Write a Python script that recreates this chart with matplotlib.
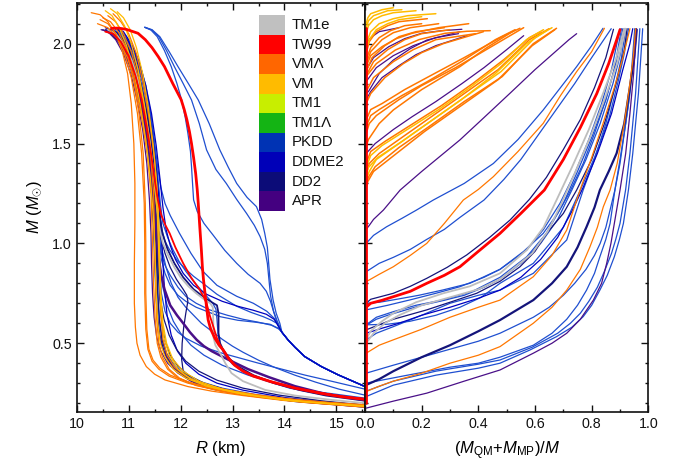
import matplotlib
matplotlib.use('Agg')
import matplotlib.pyplot as plt
from matplotlib.ticker import MultipleLocator, FormatStrFormatter
from matplotlib.patches import Rectangle

plt.rcParams['font.family'] = ['Liberation Sans', 'DejaVu Sans']
plt.rcParams['mathtext.fontset'] = 'custom'
plt.rcParams['mathtext.rm'] = 'Liberation Sans'
plt.rcParams['mathtext.it'] = 'Liberation Sans:italic'

# legend entries
EOS_NAMES = ['TM1e', 'TW99', 'VMΛ', 'VM', 'TM1', 'TM1Λ', 'PKDD', 'DDME2', 'DD2', 'APR']
EOS_COLORS = ['#c0c0c0', '#ff0000', '#ff6600', '#ffbb00', '#c8ee00',
              '#14b414', '#0033b4', '#0000b8', '#0c0c78', '#440080']

# line colours used for the curves
C_GRAY = '#bdbdbd'
C_RED = '#ff0000'
C_ORANGE = '#ff7700'
C_YELLOW = '#ffbb00'
C_BLUE = '#1f4fd0'
C_DDME2 = '#0000c0'
C_NAVY = '#14147a'
C_PURPLE = '#4a1088'

# ---------------- left panel: M-R curves (R in km, M in Msun) ----------------
mr_vml = [
    [(10.28, 2.155), (10.45, 2.145), (10.6, 2.11), (10.75, 2.05), (10.88, 1.96), (10.98, 1.85), (11.05, 1.7),
     (11.1, 1.5), (11.12, 1.3), (11.12, 1.1), (11.11, 0.9), (11.11, 0.7), (11.13, 0.58), (11.16, 0.5),
     (11.22, 0.44), (11.34, 0.383), (11.5, 0.345), (11.7, 0.316), (12.14, 0.283), (12.6, 0.26), (13.2, 0.238),
     (14.0, 0.213), (14.8, 0.196), (15.55, 0.183)],
    [(10.45, 2.12), (10.6, 2.1), (10.75, 2.05), (10.9, 1.97), (11.05, 1.83), (11.17, 1.65), (11.25, 1.45),
     (11.3, 1.2), (11.31, 1.0), (11.31, 0.75), (11.33, 0.57), (11.37, 0.47), (11.45, 0.41), (11.58, 0.37),
     (11.78, 0.335), (12.14, 0.30), (12.6, 0.272), (13.2, 0.248), (14.0, 0.222), (14.8, 0.203), (15.55, 0.19)],
    [(10.5, 2.13), (10.65, 2.11), (10.8, 2.06), (10.95, 1.98), (11.08, 1.85), (11.2, 1.65), (11.28, 1.45),
     (11.32, 1.2), (11.33, 1.0), (11.33, 0.75), (11.35, 0.57), (11.39, 0.47), (11.47, 0.415), (11.6, 0.375),
     (11.8, 0.34), (12.16, 0.305), (12.6, 0.275), (13.2, 0.25), (14.0, 0.224), (14.8, 0.205), (15.55, 0.192)],
    [(10.6, 2.14), (10.75, 2.11), (10.9, 2.05), (11.05, 1.96), (11.2, 1.82), (11.32, 1.64), (11.42, 1.45),
     (11.48, 1.25), (11.5, 1.0), (11.52, 0.8), (11.54, 0.62), (11.58, 0.5), (11.65, 0.43), (11.78, 0.37),
     (11.98, 0.325), (12.3, 0.29), (12.8, 0.26), (13.5, 0.232), (14.4, 0.205), (15.55, 0.182)],
    [(10.4, 2.1), (10.6, 2.08), (10.8, 2.02), (10.98, 1.93), (11.12, 1.8), (11.25, 1.63), (11.36, 1.45),
     (11.43, 1.25), (11.46, 1.0), (11.48, 0.8), (11.51, 0.62), (11.55, 0.5), (11.62, 0.43), (11.75, 0.37),
     (11.95, 0.325), (12.3, 0.288), (12.8, 0.258), (13.5, 0.23), (14.4, 0.203), (15.55, 0.18)],
    [(10.7, 2.15), (10.85, 2.11), (11.0, 2.05), (11.15, 1.95), (11.28, 1.8), (11.4, 1.62), (11.5, 1.42),
     (11.56, 1.22), (11.58, 1.0), (11.6, 0.8), (11.62, 0.64), (11.66, 0.52), (11.74, 0.44), (11.88, 0.38),
     (12.1, 0.335), (12.4, 0.298), (12.9, 0.266), (13.6, 0.236), (14.5, 0.207), (15.55, 0.184)],
]
mr_vm = [
    [(10.65, 2.175), (10.78, 2.15), (10.92, 2.09), (11.05, 2.0), (11.18, 1.87), (11.3, 1.7), (11.4, 1.52),
     (11.48, 1.35), (11.55, 1.15), (11.58, 0.95), (11.6, 0.8), (11.63, 0.65), (11.68, 0.53), (11.78, 0.44),
     (11.95, 0.37), (12.2, 0.32), (12.6, 0.28), (13.2, 0.245), (14.2, 0.21), (15.55, 0.185)],
    [(10.78, 2.16), (10.9, 2.13), (11.03, 2.07), (11.15, 1.98), (11.27, 1.85), (11.38, 1.68), (11.47, 1.5),
     (11.54, 1.3), (11.58, 1.1), (11.6, 0.9), (11.62, 0.75), (11.66, 0.6), (11.73, 0.5), (11.85, 0.42),
     (12.05, 0.36), (12.35, 0.31), (12.8, 0.27), (13.5, 0.235), (14.5, 0.205), (15.55, 0.186)],
    [(10.55, 2.165), (10.68, 2.14), (10.82, 2.08), (10.96, 1.99), (11.1, 1.86), (11.22, 1.7), (11.33, 1.52),
     (11.42, 1.32), (11.48, 1.12), (11.51, 0.92), (11.53, 0.75), (11.56, 0.6), (11.61, 0.5), (11.7, 0.43),
     (11.86, 0.37), (12.1, 0.325), (12.5, 0.285), (13.1, 0.25), (14.0, 0.215), (15.55, 0.184)],
]
mr_apr = [
    [(10.47, 2.07), (10.6, 2.06), (10.75, 2.02), (10.9, 1.95), (11.04, 1.85), (11.16, 1.72), (11.27, 1.57),
     (11.35, 1.4), (11.4, 1.22), (11.43, 1.05), (11.44, 0.9), (11.46, 0.75), (11.49, 0.63), (11.54, 0.53),
     (11.62, 0.46), (11.75, 0.4), (11.95, 0.35), (12.2, 0.31), (12.6, 0.275), (13.2, 0.245), (14.2, 0.21),
     (15.55, 0.18)],
    [(10.55, 2.08), (10.68, 2.065), (10.82, 2.02), (10.96, 1.94), (11.1, 1.83), (11.23, 1.68), (11.33, 1.52),
     (11.42, 1.33), (11.47, 1.15), (11.5, 0.98), (11.52, 0.82), (11.54, 0.68), (11.58, 0.56), (11.64, 0.48),
     (11.76, 0.41), (11.95, 0.36), (12.25, 0.315), (12.7, 0.275), (13.4, 0.24), (14.4, 0.207), (15.55, 0.182)],
]
mr_apr_thick = [(10.6, 2.06), (10.75, 2.04), (10.9, 1.98), (11.05, 1.88), (11.18, 1.76), (11.3, 1.6),
                (11.4, 1.42), (11.47, 1.25), (11.52, 1.1), (11.56, 0.97), (11.62, 0.85), (11.69, 0.77),
                (11.8, 0.69), (11.93, 0.64), (12.05, 0.6), (12.18, 0.555), (12.31, 0.517), (12.45, 0.485),
                (12.6, 0.46), (12.9, 0.42), (13.3, 0.37), (13.7, 0.33), (14.2, 0.285), (14.8, 0.245),
                (15.55, 0.215)]
mr_dd2 = [
    [(10.55, 2.07), (10.7, 2.05), (10.85, 2.0), (11.0, 1.93), (11.13, 1.83), (11.25, 1.7), (11.35, 1.55),
     (11.43, 1.38), (11.49, 1.2), (11.52, 1.05), (11.54, 0.9), (11.56, 0.75), (11.59, 0.62), (11.64, 0.52),
     (11.72, 0.45), (11.84, 0.39), (12.0, 0.345), (12.3, 0.3), (12.7, 0.268), (13.3, 0.24), (14.2, 0.208),
     (15.55, 0.18)],
    [(10.6, 2.075), (10.75, 2.055), (10.9, 2.0), (11.05, 1.92), (11.18, 1.81), (11.3, 1.67), (11.4, 1.5),
     (11.48, 1.32), (11.53, 1.15), (11.56, 1.0), (11.58, 0.85), (11.6, 0.72), (11.64, 0.6), (11.7, 0.51),
     (11.8, 0.44), (11.95, 0.385), (12.15, 0.34), (12.45, 0.3), (12.9, 0.265), (13.6, 0.233), (14.5, 0.205),
     (15.55, 0.182)],
    [(10.5, 2.07), (10.65, 2.055), (10.8, 2.01), (10.95, 1.94), (11.08, 1.85), (11.2, 1.73), (11.3, 1.58),
     (11.38, 1.42), (11.44, 1.25), (11.48, 1.08), (11.5, 0.92), (11.52, 0.78), (11.55, 0.64), (11.6, 0.54),
     (11.68, 0.46), (11.8, 0.4), (11.98, 0.35), (12.25, 0.308), (12.65, 0.273), (13.3, 0.24), (14.2, 0.21),
     (15.55, 0.183)],
    [(10.62, 2.06), (10.77, 2.04), (10.92, 1.99), (11.07, 1.9), (11.2, 1.79), (11.32, 1.65), (11.42, 1.48),
     (11.5, 1.3), (11.56, 1.15), (11.62, 1.03), (11.7, 0.95), (11.8, 0.88), (11.92, 0.82), (12.05, 0.77),
     (12.12, 0.74), (12.14, 0.71), (12.1, 0.65), (12.06, 0.58), (12.03, 0.5), (12.02, 0.42), (12.05, 0.36),
     (12.15, 0.32), (12.35, 0.29), (12.7, 0.265), (13.3, 0.238), (14.3, 0.21), (15.55, 0.188)],
    [(10.58, 2.07), (10.72, 2.05), (10.88, 2.0), (11.03, 1.92), (11.16, 1.82), (11.28, 1.68), (11.38, 1.52),
     (11.46, 1.34), (11.51, 1.17), (11.54, 1.0), (11.57, 0.85), (11.61, 0.72), (11.68, 0.62), (11.78, 0.54),
     (11.92, 0.47), (12.1, 0.41), (12.35, 0.36), (12.7, 0.315), (13.2, 0.275), (13.9, 0.24), (14.7, 0.212),
     (15.55, 0.19)],
]
mr_dd2_kink = [(10.65, 2.07), (10.8, 2.05), (10.95, 2.0), (11.1, 1.92), (11.23, 1.8), (11.35, 1.65),
               (11.45, 1.48), (11.52, 1.3), (11.58, 1.16), (11.65, 1.05), (11.75, 0.97), (11.88, 0.9),
               (12.05, 0.83), (12.25, 0.77), (12.45, 0.73), (12.6, 0.705), (12.7, 0.69), (12.73, 0.65),
               (12.73, 0.55), (12.76, 0.5), (12.82, 0.466), (12.95, 0.42), (13.1, 0.385), (13.4, 0.34),
               (13.8, 0.3), (14.3, 0.265), (14.8, 0.238), (15.55, 0.212)]
# shared low-mass branch of the PKDD-like curves after they merge
mr_pkdd_tail = [(13.95, 0.555), (14.07, 0.516), (14.2, 0.48), (14.39, 0.433), (14.71, 0.383), (15.03, 0.342),
                (15.55, 0.283)]
mr_ddme2 = [
    [(10.7, 2.08), (10.85, 2.06), (11.0, 2.01), (11.14, 1.93), (11.27, 1.82), (11.38, 1.68), (11.47, 1.52),
     (11.54, 1.35), (11.59, 1.2), (11.63, 1.05), (11.66, 0.9), (11.69, 0.77), (11.74, 0.64), (11.82, 0.54),
     (11.94, 0.46), (12.1, 0.4), (12.35, 0.345), (12.7, 0.3), (13.2, 0.265), (14.0, 0.228), (14.8, 0.205),
     (15.55, 0.19)],
    [(10.75, 2.08), (10.9, 2.06), (11.05, 2.0), (11.2, 1.91), (11.33, 1.79), (11.44, 1.65), (11.53, 1.49),
     (11.6, 1.33), (11.66, 1.18), (11.72, 1.07), (11.8, 0.99), (11.9, 0.92), (12.05, 0.85), (12.25, 0.79),
     (12.5, 0.745), (12.8, 0.71), (13.1, 0.685), (13.4, 0.665), (13.65, 0.645), (13.8, 0.62), (13.85, 0.6)]
    + mr_pkdd_tail,
]
mr_pkdd = [
    [(11.31, 2.082), (11.45, 2.07), (11.6, 2.035), (11.78, 1.96), (11.95, 1.885), (12.15, 1.8), (12.34, 1.718),
     (12.55, 1.6), (12.755, 1.468), (12.92, 1.38), (13.08, 1.3), (13.28, 1.23), (13.46, 1.184), (13.56, 1.12),
     (13.62, 1.05), (13.67, 0.98), (13.69, 0.917), (13.72, 0.82), (13.78, 0.717), (13.84, 0.65), (13.91, 0.6)]
    + mr_pkdd_tail,
    [(11.31, 2.082), (11.45, 2.068), (11.58, 2.035), (11.73, 1.965), (11.88, 1.885), (12.05, 1.8),
     (12.21, 1.718), (12.36, 1.6), (12.5, 1.468), (12.68, 1.37), (12.88, 1.3), (13.08, 1.22), (13.27, 1.15),
     (13.42, 1.09), (13.53, 1.034), (13.62, 0.97), (13.67, 0.9), (13.7, 0.82), (13.73, 0.74), (13.79, 0.66),
     (13.85, 0.617)] + mr_pkdd_tail,
    [(11.31, 2.082), (11.43, 2.068), (11.55, 2.035), (11.69, 1.965), (11.82, 1.885), (11.93, 1.8),
     (12.02, 1.718), (12.09, 1.63), (12.14, 1.552), (12.19, 1.46), (12.21, 1.385), (12.23, 1.3), (12.25, 1.218),
     (12.32, 1.16), (12.45, 1.1), (12.63, 1.04), (12.85, 0.965), (13.08, 0.9), (13.3, 0.845), (13.53, 0.8),
     (13.65, 0.76), (13.73, 0.71), (13.8, 0.65), (13.85, 0.61)] + mr_pkdd_tail,
    [(10.7, 2.08), (10.85, 2.06), (11.0, 2.01), (11.15, 1.93), (11.28, 1.82), (11.4, 1.68), (11.49, 1.52),
     (11.56, 1.38), (11.62, 1.28), (11.7, 1.2), (11.8, 1.14), (11.98, 1.05), (12.2, 0.95), (12.43, 0.86),
     (12.7, 0.79), (13.08, 0.735), (13.4, 0.7), (13.66, 0.66), (13.8, 0.625), (13.85, 0.605)] + mr_pkdd_tail,
    [(10.75, 2.08), (10.9, 2.055), (11.05, 2.0), (11.2, 1.91), (11.33, 1.79), (11.43, 1.64), (11.5, 1.48),
     (11.55, 1.32), (11.59, 1.18), (11.64, 1.07), (11.7, 1.01), (11.79, 0.967), (11.95, 0.91), (12.1, 0.87),
     (12.25, 0.835), (12.43, 0.8), (12.7, 0.745), (13.08, 0.685), (13.35, 0.655), (13.59, 0.633),
     (13.75, 0.615), (13.85, 0.6)] + mr_pkdd_tail,
    [(10.68, 2.07), (10.83, 2.05), (10.98, 2.0), (11.13, 1.92), (11.26, 1.81), (11.37, 1.67), (11.46, 1.5),
     (11.52, 1.33), (11.56, 1.16), (11.59, 1.03), (11.63, 0.95), (11.7, 0.89), (11.8, 0.84), (11.95, 0.78),
     (12.1, 0.735), (12.3, 0.7), (12.56, 0.667), (12.9, 0.64), (13.2, 0.62), (13.5, 0.605), (13.75, 0.59),
     (13.9, 0.57)] + mr_pkdd_tail,
    [(10.72, 2.08), (10.87, 2.055), (11.02, 2.0), (11.17, 1.91), (11.3, 1.8), (11.41, 1.66), (11.49, 1.5),
     (11.55, 1.33), (11.58, 1.15), (11.6, 1.0), (11.63, 0.92), (11.7, 0.85), (11.8, 0.79), (11.95, 0.74),
     (12.1, 0.71), (12.3, 0.68), (12.55, 0.655), (12.76, 0.633), (13.1, 0.615), (13.45, 0.605), (13.72, 0.595),
     (13.88, 0.575)] + mr_pkdd_tail,
    [(10.66, 2.07), (10.8, 2.05), (10.95, 2.0), (11.1, 1.92), (11.23, 1.81), (11.35, 1.67), (11.44, 1.5),
     (11.51, 1.33), (11.55, 1.17), (11.58, 1.0), (11.6, 0.85), (11.63, 0.75), (11.7, 0.66), (11.8, 0.6),
     (11.95, 0.555), (12.1, 0.525), (12.4, 0.485), (12.8, 0.45), (13.15, 0.425), (13.5, 0.4), (13.95, 0.37),
     (14.4, 0.34), (14.9, 0.31), (15.55, 0.27)],
    [(10.7, 2.07), (10.85, 2.05), (11.0, 2.0), (11.15, 1.92), (11.28, 1.81), (11.4, 1.67), (11.49, 1.51),
     (11.56, 1.34), (11.61, 1.2), (11.66, 1.1), (11.75, 1.03), (11.85, 0.97), (11.97, 0.91), (12.1, 0.86),
     (12.25, 0.81), (12.4, 0.765), (12.52, 0.73), (12.62, 0.7), (12.68, 0.67), (12.7, 0.62), (12.72, 0.55),
     (12.76, 0.49), (12.85, 0.44), (13.0, 0.395), (13.2, 0.36), (13.6, 0.315), (14.1, 0.275), (14.8, 0.24),
     (15.55, 0.215)],
    [(10.65, 2.07), (10.8, 2.05), (10.95, 2.0), (11.1, 1.92), (11.23, 1.81), (11.35, 1.67), (11.44, 1.5),
     (11.51, 1.33), (11.56, 1.18), (11.6, 1.05), (11.65, 0.96), (11.72, 0.88), (11.82, 0.8), (11.95, 0.73),
     (12.1, 0.68), (12.25, 0.64), (12.4, 0.6), (12.6, 0.56), (12.8, 0.52), (13.0, 0.485), (13.2, 0.455),
     (13.5, 0.415), (13.8, 0.38), (14.2, 0.34), (14.6, 0.305), (15.05, 0.27), (15.55, 0.24)],
    [(10.6, 2.07), (10.75, 2.05), (10.9, 2.0), (11.05, 1.92), (11.18, 1.82), (11.3, 1.68), (11.39, 1.52),
     (11.46, 1.34), (11.5, 1.17), (11.53, 1.0), (11.55, 0.85), (11.57, 0.7), (11.6, 0.6), (11.65, 0.52),
     (11.73, 0.45), (11.85, 0.4), (12.05, 0.35), (12.35, 0.31), (12.8, 0.275), (13.4, 0.245), (14.3, 0.212),
     (15.55, 0.185)],
    [(10.63, 2.07), (10.78, 2.05), (10.93, 2.0), (11.08, 1.92), (11.21, 1.81), (11.33, 1.67), (11.42, 1.5),
     (11.49, 1.33), (11.54, 1.17), (11.57, 1.02), (11.6, 0.9), (11.65, 0.79), (11.74, 0.69), (11.86, 0.61),
     (12.0, 0.55), (12.2, 0.49), (12.45, 0.44), (12.8, 0.39), (13.3, 0.34), (13.9, 0.295), (14.6, 0.258),
     (15.55, 0.225)],
]
mr_tm1e = [(10.6, 2.07), (10.75, 2.05), (10.9, 2.0), (11.05, 1.92), (11.18, 1.82), (11.3, 1.68), (11.4, 1.52),
           (11.48, 1.35), (11.54, 1.2), (11.59, 1.08), (11.66, 1.0), (11.76, 0.94), (11.88, 0.88), (12.0, 0.83),
           (12.15, 0.785), (12.3, 0.75), (12.45, 0.72), (12.57, 0.7), (12.62, 0.68), (12.63, 0.6),
           (12.63, 0.533), (12.67, 0.49), (12.76, 0.45), (12.86, 0.4), (12.98, 0.35), (13.2, 0.31),
           (13.63, 0.266), (14.2, 0.238), (14.91, 0.216), (15.55, 0.2)]
mr_tw99 = [(10.67, 2.077), (10.8, 2.078), (10.95, 2.072), (11.18, 2.052), (11.32, 2.02), (11.45, 1.98),
           (11.57, 1.935), (11.69, 1.885), (11.85, 1.8), (11.95, 1.75), (12.01, 1.72), (12.07, 1.67),
           (12.12, 1.62), (12.17, 1.56), (12.21, 1.5), (12.25, 1.43), (12.29, 1.35), (12.32, 1.27), (12.34, 1.2),
           (12.37, 1.08), (12.4, 0.967), (12.42, 0.88), (12.44, 0.82), (12.47, 0.75), (12.5, 0.68),
           (12.53, 0.617), (12.58, 0.57), (12.66, 0.525), (12.74, 0.49), (12.82, 0.466), (12.92, 0.425),
           (13.04, 0.39), (13.2, 0.36), (13.4, 0.335), (13.74, 0.307), (14.2, 0.275), (14.7, 0.249),
           (15.1, 0.232), (15.55, 0.219)]
mr_tw99_b = [(10.55, 2.06), (10.7, 2.05), (10.85, 2.01), (11.0, 1.94), (11.13, 1.84), (11.25, 1.72),
             (11.35, 1.58), (11.43, 1.45), (11.5, 1.32), (11.56, 1.22), (11.63, 1.14), (11.71, 1.09),
             (11.79, 1.05), (11.9, 0.98), (12.05, 0.9), (12.2, 0.83), (12.37, 0.767), (12.45, 0.73), (12.5, 0.7),
             (12.56, 0.64), (12.63, 0.583), (12.7, 0.525), (12.76, 0.49), (12.82, 0.466), (12.92, 0.427),
             (13.04, 0.392), (13.2, 0.362), (13.4, 0.337), (13.74, 0.309), (14.2, 0.277), (14.7, 0.251),
             (15.1, 0.234), (15.55, 0.221)]

# ---------------- right panel: (M_QM+M_MP)/M vs M ----------------
fm_tw99_vertical = [(0.004, 0.2), (0.004, 2.077)]
fm_tw99 = [(0.004, 0.68), (0.02, 0.70), (0.06, 0.715), (0.1, 0.733), (0.16, 0.76), (0.218, 0.80), (0.28, 0.84),
           (0.335, 0.883), (0.4, 0.96), (0.4765, 1.05), (0.55, 1.15), (0.633, 1.267), (0.7, 1.42), (0.76, 1.58),
           (0.818, 1.75), (0.86, 1.9), (0.888, 2.018), (0.9, 2.07)]
fm_dd2 = [
    [(0.004, 0.70), (0.02, 0.72), (0.06, 0.735), (0.1, 0.75), (0.16, 0.785), (0.218, 0.825), (0.29, 0.88),
     (0.359, 0.942), (0.44, 1.03), (0.512, 1.117), (0.58, 1.22), (0.64, 1.33), (0.7, 1.47), (0.76, 1.62),
     (0.81, 1.78), (0.85, 1.93), (0.877, 2.072)],
    [(0.004, 0.567), (0.1, 0.62), (0.218, 0.667), (0.31, 0.71), (0.394, 0.75), (0.4765, 0.81), (0.547, 0.883),
     (0.6, 0.96), (0.641, 1.05), (0.7, 1.15), (0.747, 1.267), (0.8, 1.42), (0.845, 1.6), (0.89, 1.82),
     (0.915, 1.97), (0.925, 2.075)],
]
fm_dd2_thick = [(0.004, 0.291), (0.05, 0.32), (0.1, 0.36), (0.2, 0.43), (0.3, 0.49), (0.4, 0.56),
                (0.4765, 0.616), (0.594, 0.716), (0.66, 0.8), (0.712, 0.883), (0.75, 0.98), (0.782, 1.083),
                (0.81, 1.18), (0.829, 1.267), (0.86, 1.36), (0.888, 1.451), (0.915, 1.6), (0.935, 1.785),
                (0.95, 1.93), (0.959, 2.07)]
fm_apr_low = [(0.004, 0.175), (0.1, 0.21), (0.218, 0.25), (0.35, 0.31), (0.4765, 0.366), (0.594, 0.45),
              (0.66, 0.5), (0.712, 0.55), (0.76, 0.62), (0.806, 0.716), (0.835, 0.8), (0.853, 0.9),
              (0.868, 1.0), (0.88, 1.1), (0.9, 1.267), (0.92, 1.45), (0.935, 1.65), (0.948, 1.85),
              (0.958, 2.075)]
fm_tm1e = [
    [(0.004, 0.52), (0.02, 0.56), (0.06, 0.61), (0.1, 0.65), (0.18, 0.705), (0.276, 0.75), (0.37, 0.785),
     (0.4765, 0.85), (0.571, 0.967), (0.63, 1.08), (0.676, 1.217), (0.73, 1.38), (0.79, 1.57), (0.84, 1.75),
     (0.885, 1.92), (0.915, 2.075)],
    [(0.004, 0.50), (0.03, 0.55), (0.07, 0.6), (0.12, 0.64), (0.2, 0.69), (0.3, 0.73), (0.4, 0.77),
     (0.4765, 0.82), (0.59, 0.95), (0.645, 1.06), (0.69, 1.19), (0.74, 1.35), (0.8, 1.55), (0.85, 1.74),
     (0.89, 1.9), (0.92, 2.075)],
]
fm_pkdd = [
    [(0.004, 0.592), (0.04, 0.63), (0.1, 0.658), (0.18, 0.69), (0.276, 0.717), (0.38, 0.76), (0.4765, 0.83),
     (0.571, 0.933), (0.64, 1.05), (0.7, 1.2), (0.75, 1.36), (0.8, 1.53), (0.85, 1.72), (0.88, 1.87),
     (0.905, 2.075)],
    [(0.004, 0.592), (0.08, 0.595), (0.159, 0.61), (0.25, 0.64), (0.335, 0.68), (0.41, 0.73), (0.4765, 0.8),
     (0.594, 0.9), (0.7, 1.08), (0.76, 1.267), (0.81, 1.43), (0.86, 1.62), (0.895, 1.82), (0.915, 1.95),
     (0.93, 2.075)],
    [(0.004, 0.517), (0.04, 0.55), (0.1, 0.583), (0.2, 0.64), (0.3, 0.7), (0.4, 0.74), (0.4765, 0.766),
     (0.594, 0.85), (0.712, 1.017), (0.77, 1.267), (0.81, 1.42), (0.85, 1.6), (0.885, 1.8), (0.905, 1.93),
     (0.92, 2.075)],
    [(0.004, 0.35), (0.1, 0.39), (0.2, 0.43), (0.3, 0.47), (0.4, 0.51), (0.4765, 0.55), (0.594, 0.63),
     (0.65, 0.68), (0.7, 0.74), (0.74, 0.8), (0.78, 0.87), (0.81, 0.94), (0.83, 1.0), (0.85, 1.08),
     (0.862, 1.15), (0.882, 1.267), (0.9, 1.4), (0.915, 1.55), (0.93, 1.7), (0.94, 1.85), (0.952, 2.075)],
    [(0.004, 0.233), (0.1, 0.29), (0.25, 0.34), (0.4, 0.375), (0.4765, 0.4), (0.582, 0.466), (0.676, 0.533),
     (0.73, 0.58), (0.77, 0.633), (0.8, 0.69), (0.829, 0.766), (0.855, 0.84), (0.88, 0.933), (0.898, 1.02),
     (0.912, 1.1), (0.93, 1.27), (0.945, 1.45), (0.955, 1.6), (0.965, 1.75), (0.972, 1.9), (0.98, 2.075)],
    [(0.004, 0.26), (0.1, 0.31), (0.25, 0.36), (0.4, 0.395), (0.4765, 0.416), (0.59, 0.48), (0.68, 0.55),
     (0.725, 0.6), (0.76, 0.65), (0.79, 0.71), (0.82, 0.78), (0.845, 0.86), (0.87, 0.95), (0.885, 1.02),
     (0.9, 1.1), (0.92, 1.27), (0.935, 1.45), (0.945, 1.6), (0.955, 1.75), (0.962, 1.9), (0.97, 2.075)],
    [(0.004, 0.30), (0.15, 0.34), (0.3, 0.38), (0.4, 0.4), (0.4765, 0.43), (0.594, 0.49), (0.66, 0.55),
     (0.712, 0.62), (0.75, 0.69), (0.782, 0.766), (0.81, 0.85), (0.829, 0.933), (0.85, 1.02), (0.865, 1.1),
     (0.882, 1.267), (0.9, 1.42), (0.92, 1.6), (0.935, 1.75), (0.945, 1.9), (0.955, 2.075)],
    [(0.004, 1.0), (0.03, 1.04), (0.076, 1.083), (0.13, 1.125), (0.182, 1.167), (0.241, 1.217), (0.35, 1.3),
     (0.453, 1.40), (0.54, 1.52), (0.629, 1.668), (0.69, 1.78), (0.747, 1.885), (0.8, 1.99), (0.84, 2.077)],
    [(0.004, 0.858), (0.05, 0.9), (0.1, 0.93), (0.16, 0.97), (0.218, 1.02), (0.28, 1.07), (0.335, 1.13),
     (0.42, 1.217), (0.49, 1.32), (0.55, 1.42), (0.62, 1.56), (0.68, 1.68), (0.74, 1.8), (0.8, 1.93),
     (0.869, 2.075)],
    [(0.004, 0.70), (0.05, 0.705), (0.1, 0.717), (0.19, 0.74), (0.276, 0.767), (0.37, 0.8), (0.4765, 0.87),
     (0.571, 0.967), (0.63, 1.07), (0.688, 1.2), (0.74, 1.35), (0.79, 1.52), (0.835, 1.7), (0.87, 1.87),
     (0.9, 2.075)],
    [(0.004, 0.667), (0.08, 0.69), (0.159, 0.717), (0.25, 0.75), (0.335, 0.783), (0.42, 0.83), (0.4765, 0.87),
     (0.56, 0.96), (0.629, 1.05), (0.68, 1.15), (0.72, 1.25), (0.77, 1.4), (0.81, 1.55), (0.85, 1.72),
     (0.885, 1.9), (0.91, 2.075)],
    [(0.004, 0.59), (0.04, 0.62), (0.08, 0.64), (0.14, 0.665), (0.2, 0.69), (0.28, 0.715), (0.35, 0.74),
     (0.42, 0.78), (0.4765, 0.82), (0.55, 0.9), (0.62, 1.0), (0.68, 1.12), (0.73, 1.267), (0.78, 1.42),
     (0.83, 1.6), (0.875, 1.8), (0.9, 1.94), (0.915, 2.075)],
]
fm_ddme2 = [
    [(0.004, 0.55), (0.06, 0.575), (0.12, 0.60), (0.2, 0.64), (0.3, 0.68), (0.4, 0.725), (0.4765, 0.766),
     (0.55, 0.83), (0.62, 0.92), (0.68, 1.03), (0.73, 1.16), (0.77, 1.28), (0.82, 1.45), (0.87, 1.65),
     (0.91, 1.87), (0.935, 2.0), (0.945, 2.075)],
]
fm_vml_late = [
    [(0.004, 0.45), (0.05, 0.49), (0.1, 0.517), (0.2, 0.57), (0.3, 0.63), (0.4, 0.68), (0.4765, 0.716),
     (0.594, 0.833), (0.66, 0.94), (0.712, 1.067), (0.759, 1.267), (0.8, 1.43), (0.84, 1.6), (0.88, 1.78),
     (0.91, 1.93), (0.935, 2.075)],
    [(0.004, 0.258), (0.05, 0.285), (0.1, 0.31), (0.2, 0.35), (0.3, 0.4), (0.4, 0.44), (0.4765, 0.483),
     (0.594, 0.6), (0.66, 0.68), (0.712, 0.766), (0.76, 0.87), (0.794, 0.983), (0.82, 1.08), (0.841, 1.183),
     (0.865, 1.267), (0.89, 1.4), (0.915, 1.6), (0.935, 1.8), (0.948, 1.95), (0.955, 2.075)],
    [(0.004, 0.808), (0.05, 0.845), (0.1, 0.883), (0.16, 0.94), (0.218, 1.0), (0.28, 1.1), (0.347, 1.217),
     (0.4, 1.27), (0.453, 1.334), (0.54, 1.46), (0.629, 1.601), (0.69, 1.74), (0.747, 1.86), (0.8, 1.96),
     (0.845, 2.077)],
]
fm_apr = [
    [(0.004, 1.07), (0.015, 1.09), (0.03, 1.12), (0.065, 1.167), (0.124, 1.267), (0.2, 1.36), (0.335, 1.518),
     (0.42, 1.63), (0.512, 1.752), (0.6, 1.87), (0.688, 1.98), (0.72, 2.02), (0.747, 2.05)],
    [(0.004, 1.45), (0.036, 1.50), (0.1, 1.57), (0.166, 1.634), (0.25, 1.71), (0.342, 1.80), (0.42, 1.88),
     (0.5, 1.97), (0.56, 2.04)],
    [(0.004, 1.868), (0.03, 1.93), (0.084, 1.985), (0.14, 2.025), (0.2, 2.052), (0.27, 2.065), (0.342, 2.072)],
    [(0.004, 1.81), (0.04, 1.88), (0.1, 1.94), (0.17, 1.99), (0.25, 2.03), (0.33, 2.05)],
    [(0.004, 1.752), (0.012, 1.76), (0.05, 1.85), (0.1, 1.918), (0.16, 1.975), (0.218, 2.018), (0.335, 2.06)],
    [(0.004, 1.72), (0.02, 1.76), (0.06, 1.83), (0.12, 1.89), (0.18, 1.945), (0.25, 1.99), (0.36, 2.04)],
    [(0.004, 2.0), (0.02, 2.03), (0.05, 2.06), (0.12, 2.08)],
]
fm_vml = [
    [(0.004, 1.30), (0.013, 1.334), (0.036, 1.384), (0.12, 1.48), (0.225, 1.584), (0.35, 1.71), (0.484, 1.835),
     (0.594, 2.0), (0.676, 2.077)],
    [(0.004, 1.35), (0.015, 1.40), (0.05, 1.45), (0.14, 1.54), (0.24, 1.64), (0.35, 1.75), (0.47, 1.87),
     (0.58, 2.02), (0.65, 2.075)],
    [(0.004, 1.28), (0.01, 1.31), (0.03, 1.36), (0.12, 1.46), (0.21, 1.56), (0.34, 1.69), (0.47, 1.82),
     (0.59, 1.99), (0.67, 2.07)],
    [(0.004, 1.40), (0.02, 1.46), (0.07, 1.51), (0.17, 1.6), (0.27, 1.69), (0.38, 1.8), (0.49, 1.92),
     (0.58, 2.03), (0.62, 2.06)],
    [(0.004, 1.618), (0.02, 1.67), (0.06, 1.70), (0.14, 1.77), (0.225, 1.835), (0.35, 1.93), (0.484, 2.035),
     (0.547, 2.077)],
    [(0.004, 1.585), (0.02, 1.64), (0.05, 1.67), (0.13, 1.74), (0.22, 1.81), (0.34, 1.91), (0.46, 2.02),
     (0.53, 2.07)],
    [(0.004, 1.55), (0.015, 1.6), (0.04, 1.64), (0.12, 1.72), (0.2, 1.79), (0.32, 1.88), (0.44, 1.98),
     (0.56, 2.08)],
    [(0.004, 1.485), (0.012, 1.52), (0.05, 1.6), (0.1, 1.668), (0.2, 1.77), (0.335, 1.885), (0.43, 1.98),
     (0.52, 2.06)],
    [(0.004, 1.885), (0.02, 1.94), (0.06, 1.985), (0.11, 2.025), (0.166, 2.052), (0.26, 2.08), (0.366, 2.10)],
    [(0.004, 1.835), (0.04, 1.9), (0.107, 1.968), (0.19, 2.02), (0.283, 2.052), (0.36, 2.062), (0.442, 2.065)],
    [(0.004, 1.76), (0.03, 1.83), (0.1, 1.91), (0.17, 1.97), (0.25, 2.02), (0.39, 2.05)],
    [(0.004, 1.70), (0.02, 1.75), (0.07, 1.83), (0.135, 1.90), (0.2, 1.955), (0.276, 2.0), (0.418, 2.06)],
    [(0.004, 1.95), (0.015, 2.01), (0.04, 2.06), (0.08, 2.09), (0.12, 2.11), (0.22, 2.125)],
    [(0.004, 1.92), (0.02, 1.98), (0.05, 2.03), (0.09, 2.065), (0.14, 2.09), (0.2, 2.1)],
    [(0.004, 1.90), (0.02, 1.96), (0.06, 2.02), (0.1, 2.055), (0.16, 2.08), (0.26, 2.1)],
    [(0.004, 1.86), (0.025, 1.93), (0.07, 1.99), (0.12, 2.035), (0.18, 2.06), (0.28, 2.08)],
    [(0.004, 1.84), (0.03, 1.91), (0.08, 1.97), (0.14, 2.02), (0.2, 2.05), (0.3, 2.07)],
]
fm_vm = [
    [(0.004, 1.32), (0.015, 1.36), (0.04, 1.42), (0.13, 1.51), (0.23, 1.61), (0.35, 1.73), (0.48, 1.86),
     (0.60, 2.03), (0.66, 2.08)],
    [(0.004, 1.38), (0.02, 1.44), (0.06, 1.49), (0.16, 1.58), (0.26, 1.67), (0.37, 1.78), (0.48, 1.90),
     (0.57, 2.02), (0.63, 2.07)],
    [(0.004, 1.34), (0.012, 1.38), (0.045, 1.43), (0.13, 1.51), (0.22, 1.60), (0.34, 1.72), (0.46, 1.85),
     (0.57, 2.0), (0.64, 2.065)],
    [(0.004, 2.0), (0.02, 2.06), (0.05, 2.1), (0.1, 2.125), (0.15, 2.14), (0.25, 2.15)],
    [(0.004, 2.05), (0.012, 2.09), (0.03, 2.12), (0.06, 2.14), (0.1, 2.155), (0.18, 2.165)],
    [(0.004, 2.08), (0.012, 2.115), (0.03, 2.14), (0.08, 2.165), (0.13, 2.17)],
    [(0.004, 2.1), (0.01, 2.13), (0.02, 2.15), (0.06, 2.17), (0.1, 2.18)],
    [(0.004, 1.97), (0.015, 2.02), (0.04, 2.07), (0.08, 2.1), (0.12, 2.12), (0.2, 2.135)],
]


def draw(ax, curves, color, lw=0.9):
    for c in curves:
        xs = [p[0] for p in c]
        ys = [p[1] for p in c]
        ax.plot(xs, ys, color=color, lw=lw, solid_joinstyle='round', solid_capstyle='round')


def style(ax, major, minor):
    ax.xaxis.set_major_locator(MultipleLocator(major))
    ax.xaxis.set_minor_locator(MultipleLocator(minor))
    ax.yaxis.set_major_locator(MultipleLocator(0.5))
    ax.yaxis.set_minor_locator(MultipleLocator(0.1))
    ax.tick_params(which='both', direction='in', top=True, right=True, width=1.0, labelsize=10.3,
                   colors='#111111')
    ax.tick_params(which='major', length=5)
    ax.tick_params(which='minor', length=2.5)
    for s in ax.spines.values():
        s.set_linewidth(1.2)
        s.set_color('#111111')


fig = plt.figure(figsize=(6.86, 4.74), dpi=100)
ax1 = fig.add_axes([0.1118, 0.1314, 0.4203, 0.8616])
ax2 = fig.add_axes([0.5321, 0.1314, 0.4130, 0.8616])

# left panel
draw(ax1, mr_pkdd, C_BLUE)
draw(ax1, mr_ddme2, C_DDME2)
draw(ax1, mr_dd2, C_NAVY)
draw(ax1, [mr_dd2_kink], C_NAVY, lw=1.3)
draw(ax1, mr_apr, C_PURPLE)
draw(ax1, [mr_apr_thick], C_PURPLE, lw=1.8)
draw(ax1, [mr_tm1e], C_GRAY, lw=1.3)
draw(ax1, mr_vml, C_ORANGE)
draw(ax1, mr_vm, C_YELLOW)
draw(ax1, [mr_tw99_b], C_RED, lw=1.3)
draw(ax1, [mr_tw99], C_RED, lw=2.0)

ax1.set_xlim(10, 15.55)
ax1.set_ylim(0.157, 2.202)
style(ax1, 1, 0.5)
ax1.set_xlabel(r'$R$ (km)', fontsize=12, labelpad=6)
ax1.set_ylabel(r'$M$ ($M_{\odot}$)', fontsize=12, labelpad=6)

# legend boxes
box_h = 0.0479
for i, (name, col) in enumerate(zip(EOS_NAMES, EOS_COLORS)):
    y0 = 0.9707 - (i + 1) * box_h
    ax1.add_patch(Rectangle((0.632, y0), 0.0903, box_h, transform=ax1.transAxes,
                            facecolor=col, edgecolor='none', zorder=5))
    ax1.text(0.7465, y0 + box_h / 2, name, transform=ax1.transAxes, fontsize=10.8,
             va='center', ha='left', color='#111111', zorder=6)

# right panel
draw(ax2, fm_pkdd, C_BLUE)
draw(ax2, fm_ddme2, C_DDME2)
draw(ax2, fm_dd2, C_NAVY)
draw(ax2, [fm_dd2_thick], C_NAVY, lw=1.6)
draw(ax2, [fm_apr_low], C_PURPLE)
draw(ax2, fm_tm1e, C_GRAY, lw=1.3)
draw(ax2, fm_vml_late, C_ORANGE)
draw(ax2, [fm_tw99], C_RED, lw=2.0)
draw(ax2, fm_apr, C_PURPLE)
draw(ax2, fm_vml, C_ORANGE, lw=1.1)
draw(ax2, fm_vm, C_YELLOW, lw=1.1)
draw(ax2, [fm_tw99_vertical], C_RED, lw=2.0)

ax2.set_xlim(0, 1.0)
ax2.set_ylim(0.157, 2.202)
style(ax2, 0.2, 0.1)
ax2.set_yticklabels([])
ax2.xaxis.set_major_formatter(FormatStrFormatter('%.1f'))
ax2.set_xlabel(r'$(M_{\mathrm{QM}}$+$M_{\mathrm{MP}})/M$', fontsize=12, labelpad=6)

fig.savefig('out.png', dpi=100)
